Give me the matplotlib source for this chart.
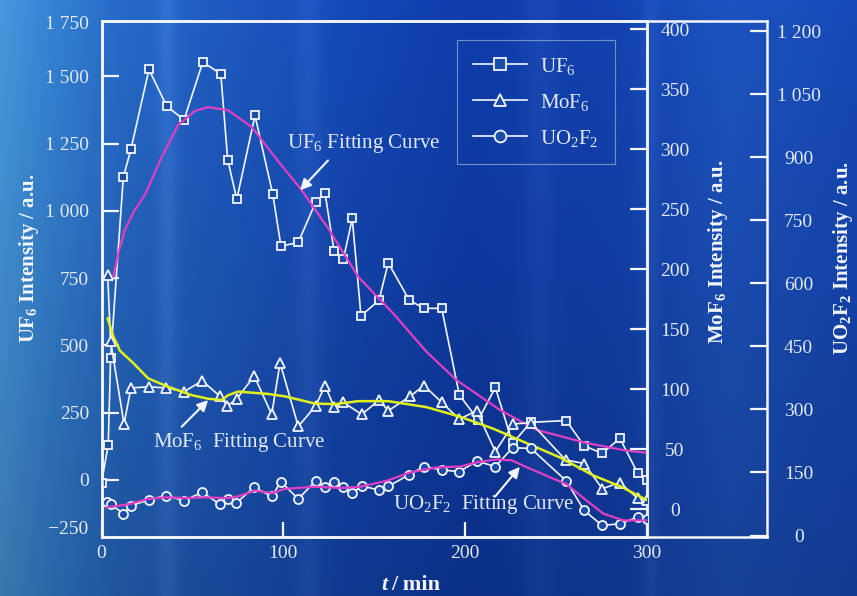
import numpy as np
import matplotlib.pyplot as plt
from matplotlib.ticker import FuncFormatter
from matplotlib.lines import Line2D

plt.rcParams['font.family'] = ['Liberation Serif', 'DejaVu Serif']
plt.rcParams['mathtext.fontset'] = 'custom'
plt.rcParams['mathtext.rm'] = 'Liberation Serif'
plt.rcParams['mathtext.it'] = 'Liberation Serif:italic'
plt.rcParams['mathtext.bf'] = 'Liberation Serif:bold'

# ---- data ----
uf6_t = [0, 3.7, 5.0, 12.0, 16.2, 26.1, 35.9, 45.4, 55.7, 65.6, 69.4, 74.4, 84.4, 94.2,
         98.7, 108.2, 117.8, 122.9, 127.9, 133.0, 137.9, 142.7, 152.6, 157.7, 169.3,
         177.4, 187.1, 196.8, 207.2, 216.6, 226.1, 236.0, 255.6, 265.4, 275.4, 285.1,
         294.9, 300]
uf6_v = [-10, 130, 453, 1126, 1229, 1526, 1389, 1339, 1553, 1510, 1191, 1043, 1355, 1062,
         869, 883, 1033, 1068, 851, 820, 972, 610, 668, 807, 668,
         638, 638, 316, 223, 344, 136, 214, 221, 127, 99, 155,
         25, 0]

mof6_t = [3.4, 5.0, 12.4, 16.2, 26.1, 35.5, 45.5, 55.4, 65.2, 69.2, 74.4, 84.0, 93.6,
          98.2, 108.2, 117.8, 122.9, 128.0, 133.0, 143.1, 152.8, 157.7, 169.7, 177.4,
          187.1, 196.8, 206.3, 216.6, 226.5, 236.2, 255.2, 265.4, 275.4, 285.1, 294.9, 300]
mof6_v = [195, 140, 71, 101, 102, 101, 98, 107, 94, 86, 92, 111, 79,
          122, 69, 86, 103, 85, 89, 79, 91, 82, 94, 103,
          89, 75, 82, 48, 71, 72, 41, 38, 17, 22, 9, 7.5]

uo2f2_t = [2.9, 5.2, 12.0, 16.2, 26.1, 35.5, 45.5, 55.4, 65.2, 69.4, 74.0, 84.0, 93.6,
           98.7, 108.2, 117.8, 122.9, 128.0, 133.0, 137.6, 143.1, 152.8, 157.7, 169.3,
           177.4, 187.1, 196.8, 206.5, 216.6, 226.1, 236.2, 255.6, 265.4, 275.3, 285.1,
           295.0, 300]
uo2f2_v = [79, 74, 52, 71, 85, 95, 83, 103, 74, 86, 77, 115, 93,
           128, 87, 130, 115, 128, 115, 100, 118, 108, 117, 145,
           164, 156, 152, 177, 164, 209, 207, 130, 60, 24, 28,
           44, 40]

uf6_fit_t = [6.5, 9.5, 12.9, 18.0, 23.9, 33.1, 42.2, 51.4, 58.7, 69.7, 82.6, 95.4, 110.1,
             124.7, 141.2, 160.3, 178.8, 195.3, 219.2, 239.3, 267.0, 288.8, 300]
uf6_fit_v = [755, 850, 930, 1000, 1060, 1200, 1320, 1372, 1386, 1374, 1312, 1200, 1077,
             935, 755, 620, 476, 371, 260, 186, 137, 109, 101]

mof6_fit_t = [3.4, 6.5, 10.2, 17.3, 25.7, 36.7, 49.6, 58.7, 66.1, 69.7, 75.2, 91.7, 100.9,
              117.4, 128.4, 141.2, 157.7, 178.8, 197.2, 215.5, 233.8, 252.2, 270.5,
              285.2, 300]
mof6_fit_v = [159, 144, 132, 122, 109, 102, 95, 92, 91, 95, 98, 96, 94,
              88, 87.5, 90, 90, 85, 77, 67, 55, 43, 28,
              19, 7.5]

uo2f2_fit_t = [2.9, 14.6, 25.6, 35.9, 45.9, 56.9, 69.6, 75.1, 84.4, 93.6, 100.9, 117.4,
               132.1, 142.2, 156.8, 169.7, 184.3, 197.2, 206.3, 217.3, 225.5, 232.0,
               244.8, 255.8, 266.8, 276.0, 287.0, 300]
uo2f2_fit_v = [67, 74, 87, 91, 89, 91, 89, 93, 107, 101, 111, 116,
               113, 116, 130, 150, 162, 164, 174, 181, 179, 166,
               142, 122, 83, 52, 36, 36]

left_ticks = [0, 250, 500, 750, 1000, 1250, 1500]
mof6_ticks = [0, 50, 100, 150, 200, 250, 300, 350, 400]
uo2f2_ticks = [0, 150, 300, 450, 600, 750, 900, 1050, 1200]
x_ticks = [0, 100, 200, 300]

# ---- styling ----
WHITE = '#f4f6fb'
TXT = '#e3e8f2'
MAGENTA = '#e23ec4'
YELLOW = '#e2f01c'
MFACE = '#1a4ca8'
FS = 14


def thousands(v, pos):
    s = f"{int(round(v)):,}".replace(',', ' ')
    return s.replace('-', '\u2212')


fig = plt.figure(figsize=(8.57, 5.96), dpi=100)

# background gradient (photographed page look)
W, H = 857, 596
xs = np.linspace(0, 1, W)
cx = [0.0, 0.06, 0.14, 0.25, 0.4, 0.55, 0.72, 0.85, 1.0]
cr = [70, 52, 38, 30, 20, 14, 18, 28, 22]
cg = [150, 128, 104, 90, 72, 60, 66, 82, 72]
cb = [218, 208, 196, 190, 180, 168, 174, 188, 180]
row = np.stack([np.interp(xs, cx, cr), np.interp(xs, cx, cg), np.interp(xs, cx, cb)], axis=1)
for c, w, a in [(0.195, 0.012, 14), (0.36, 0.015, 10), (0.63, 0.02, 8), (0.76, 0.01, 10)]:
    row += a * np.exp(-((xs - c) / w) ** 2)[:, None]
yy = np.linspace(0, 1, H)[:, None, None]
bg = row[None, :, :] * (1.02 - 0.22 * yy)
bg = np.clip(bg / 255.0, 0, 1)
bax = fig.add_axes([0, 0, 1, 1], zorder=-10)
bax.imshow(bg, aspect='auto', extent=[0, 1, 0, 1])
bax.axis('off')

ax = fig.add_axes([101.5 / W, 1 - 537 / H, 545.5 / W, 516.5 / H])
ax.set_facecolor('none')
ax2 = ax.twinx()
ax3 = ax.twinx()
ax3.spines['right'].set_position(('axes', (766.7 - 101.5) / 545.5))

# UF6 (left axis)
ax.plot(uf6_t, uf6_v, color=WHITE, lw=1.2, marker='s', ms=6, mfc=MFACE,
        mec=WHITE, mew=1.3, zorder=3)
ax.plot(uf6_fit_t, uf6_fit_v, color=MAGENTA, lw=1.6, zorder=4)
ax.set_xlim(0, 300)
ax.set_ylim(-212, 1708)

# MoF6
ax2.plot(mof6_t, mof6_v, color=WHITE, lw=1.2, marker='^', ms=7, mfc=MFACE,
         mec=WHITE, mew=1.3, zorder=3)
ax2.plot(mof6_fit_t, mof6_fit_v, color=YELLOW, lw=1.8, zorder=4)
ax2.set_ylim(-23.3, 407.5)

# UO2F2
ax3.plot(uo2f2_t, uo2f2_v, color=WHITE, lw=1.2, marker='o', ms=6.5, mfc=MFACE,
         mec=WHITE, mew=1.3, zorder=3)
ax3.plot(uo2f2_fit_t, uo2f2_fit_v, color=MAGENTA, lw=1.6, zorder=4)
ax3.set_ylim(-3.5, 1225)

# axes cosmetics
for a in (ax, ax2, ax3):
    for s in a.spines.values():
        s.set_color(WHITE)
        s.set_linewidth(1.8)
for s in ('top', 'bottom', 'left'):
    ax3.spines[s].set_visible(False)
frac = (766.7 - 101.5) / 545.5
for yv in (0, 1):
    ax.plot([1, frac], [yv, yv], transform=ax.transAxes, color=WHITE, lw=1.8,
            clip_on=False, solid_capstyle='projecting')

ax.set_xticks(x_ticks)
ax.set_xticklabels([str(v) for v in x_ticks])
ax.tick_params(axis='x', direction='in', length=11, width=1.6, color=WHITE,
               labelcolor=TXT, labelsize=FS, pad=6)
ax.set_yticks(left_ticks)
ax.yaxis.set_major_formatter(FuncFormatter(thousands))
ax.tick_params(axis='y', direction='in', length=12, width=1.6, color=WHITE,
               labelcolor=TXT, labelsize=FS, pad=9)
ax.text(-0.024, 0.992, '1 750', transform=ax.transAxes, ha='right', va='center',
        color=TXT, fontsize=FS)
ax.text(-0.024, 0.014, '\u2212250', transform=ax.transAxes, ha='right', va='center',
        color=TXT, fontsize=FS)

ax2.set_yticks(mof6_ticks)
ax2.tick_params(axis='y', direction='in', length=12, width=1.6, color=WHITE,
                labelcolor=TXT, labelsize=FS, pad=20)
plt.setp(ax2.get_yticklabels(), ha='center')

ax3.set_yticks(uo2f2_ticks)
ax3.yaxis.set_major_formatter(FuncFormatter(thousands))
ax3.tick_params(axis='y', direction='in', length=12, width=1.6, color=WHITE,
                labelcolor=TXT, labelsize=FS, pad=23)
plt.setp(ax3.get_yticklabels(), ha='center')

# axis titles
fig.text(29 / W, 1 - 258 / H, r'UF$_\mathbf{6}$ Intensity / a.u.', rotation=90,
         ha='center', va='center', color=WHITE, fontsize=15, fontweight='bold')
fig.text(718 / W, 1 - 252 / H, r'MoF$_\mathbf{6}$ Intensity / a.u.', rotation=90,
         ha='center', va='center', color=WHITE, fontsize=15, fontweight='bold')
fig.text(843 / W, 1 - 258 / H, r'UO$_\mathbf{2}$F$_\mathbf{2}$ Intensity / a.u.', rotation=90,
         ha='center', va='center', color=WHITE, fontsize=15, fontweight='bold')
fig.text(387 / W, 1 - 585 / H, 't', ha='right', va='center', color=WHITE,
         fontsize=16, fontweight='bold', fontstyle='italic')
fig.text(391 / W, 1 - 585 / H, '/ min', ha='left', va='center', color=WHITE,
         fontsize=16, fontweight='bold')

# annotations
arrow = dict(arrowstyle='-|>', color=WHITE, lw=1.5, mutation_scale=16, shrinkA=0, shrinkB=0)
ax.text(102, 1251, r'UF$_6$ Fitting Curve', color=TXT, fontsize=15, va='center', zorder=6)
ax.annotate('', xy=(109.2, 1077), xytext=(124.6, 1188), arrowprops=arrow, zorder=6)
ax.text(28.3, 141, r'MoF$_6$  Fitting Curve', color=TXT, fontsize=15, va='center', zorder=6)
ax.annotate('', xy=(58.7, 297), xytext=(44.1, 198), arrowprops=arrow, zorder=6)
ax.text(160.3, -93, r'UO$_2$F$_2$  Fitting Curve', color=TXT, fontsize=15, va='center', zorder=6)
ax.annotate('', xy=(230.1, 49), xytext=(216.4, -62), arrowprops=arrow, zorder=6)

# legend
handles = [Line2D([], [], color=WHITE, lw=1.2, marker=m, ms=s, mfc=MFACE, mec=WHITE, mew=1.3)
           for m, s in (('s', 8), ('^', 9), ('o', 8.5))]
leg = ax3.legend(handles, [r'UF$_6$', r'MoF$_6$', r'UO$_2$F$_2$'], loc='upper left',
                 bbox_to_anchor=(0.652, 0.962), borderaxespad=0, fontsize=15,
                 handlelength=2.6, handletextpad=0.65, labelspacing=0.72, borderpad=0.75,
                 fancybox=False, edgecolor='#8ea4cf', facecolor='none', labelcolor=TXT)
leg.get_frame().set_linewidth(0.8)

fig.savefig('out.png', dpi=100)
